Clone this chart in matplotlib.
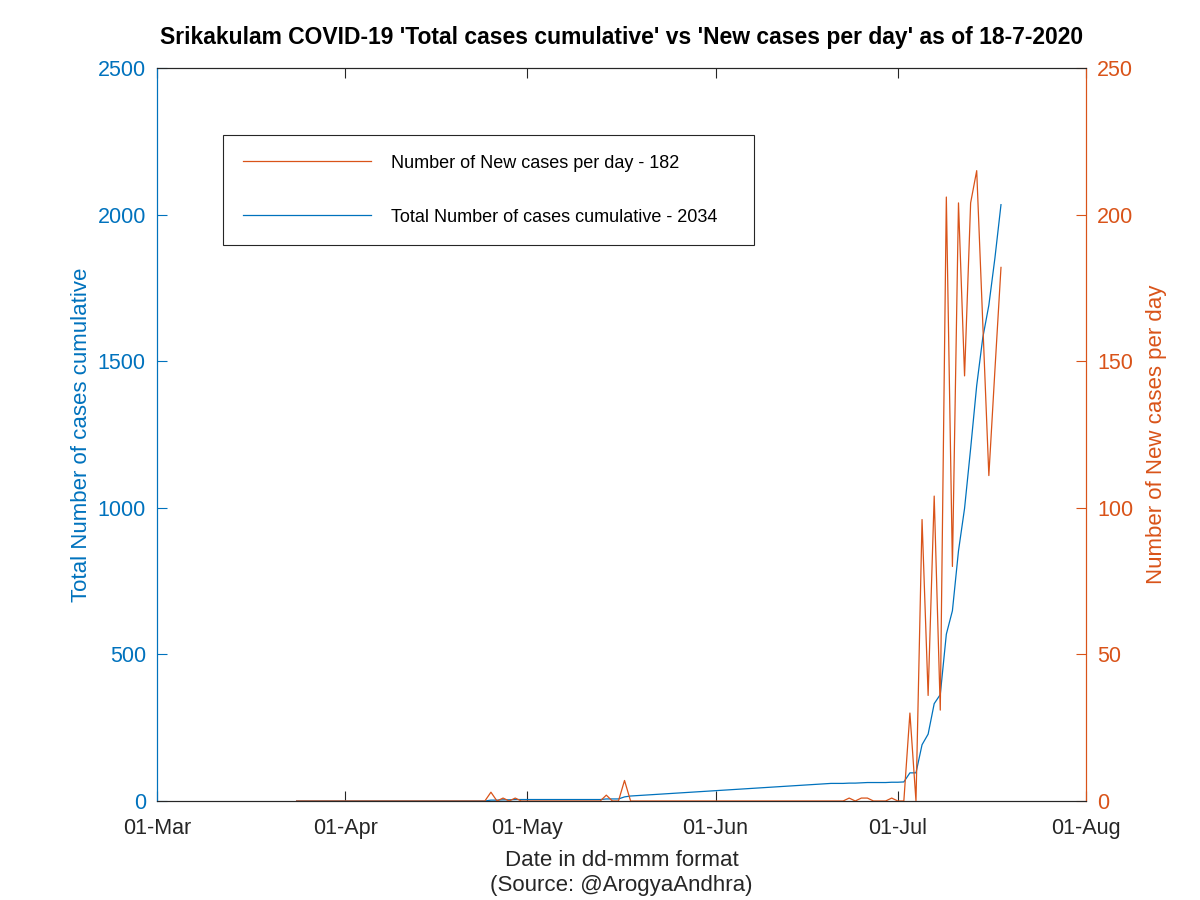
"""Srikakulam COVID-19: cumulative cases vs new cases per day (MATLAB-style twin axes)."""
import matplotlib

matplotlib.use("Agg")
import matplotlib.pyplot as plt
import matplotlib.dates as mdates
import numpy as np

plt.rcParams["font.family"] = ["Liberation Sans", "DejaVu Sans"]

# data
dates = np.array([
    "2020-03-24", "2020-04-24", "2020-04-25", "2020-04-26", "2020-04-27", "2020-04-28",
    "2020-04-29", "2020-04-30", "2020-05-13", "2020-05-14", "2020-05-15", "2020-05-16",
    "2020-05-17", "2020-05-18", "2020-06-20", "2020-06-22", "2020-06-23", "2020-06-24",
    "2020-06-25", "2020-06-26", "2020-06-27", "2020-06-29", "2020-06-30", "2020-07-01",
    "2020-07-02", "2020-07-03", "2020-07-04", "2020-07-05", "2020-07-06", "2020-07-07",
    "2020-07-08", "2020-07-09", "2020-07-10", "2020-07-11", "2020-07-12", "2020-07-13",
    "2020-07-14", "2020-07-15", "2020-07-16", "2020-07-17", "2020-07-18",
], dtype="datetime64[D]")
total_cases = [
    0, 0, 3, 3, 4, 4,
    5, 5, 5, 7, 7, 7,
    14, 17, 60, 60, 61, 61,
    62, 63, 63, 63, 64, 64,
    65, 96, 96, 192, 228, 332,
    363, 569, 649, 853, 998, 1202,
    1417, 1580, 1691, 1852, 2034,
]
new_cases = [
    0, 0, 3, 0, 1, 0,
    1, 0, 0, 2, 0, 0,
    7, 0, 0, 0, 1, 0,
    1, 1, 0, 0, 1, 0,
    0, 30, 0, 96, 36, 104,
    31, 206, 80, 204, 145, 204,
    215, 163, 111, 147, 182,
]
x_ticks = np.array(["2020-03-01", "2020-04-01", "2020-05-01", "2020-06-01",
                    "2020-07-01", "2020-08-01"], dtype="datetime64[D]")

BLUE = "#0072BD"
ORANGE = "#D95319"
DARK = "#262626"

fig = plt.figure(figsize=(12, 9), dpi=100)
ax = fig.add_axes([0.1308, 0.11, 0.7742, 0.8144])
ax2 = ax.twinx()

l_total, = ax.plot(dates, total_cases, color=BLUE, lw=0.9,
                   label=f"Total Number of cases cumulative - {total_cases[-1]}")
l_new, = ax2.plot(dates, new_cases, color=ORANGE, lw=0.9,
                  label=f"Number of New cases per day - {new_cases[-1]}")

ax.set_xlim(x_ticks[0], x_ticks[-1])
ax.set_xticks(x_ticks)
ax.xaxis.set_major_formatter(mdates.DateFormatter("%d-%b"))
ax.set_ylim(0, 2500)
ax.set_yticks(np.arange(0, 2501, 500))
ax2.set_ylim(0, 250)
ax2.set_yticks(np.arange(0, 251, 50))

ax.tick_params(axis="x", direction="in", length=7, top=True, colors=DARK,
               labelsize=15.5, labelcolor=DARK, pad=12)
ax.tick_params(axis="y", direction="in", length=7, colors=BLUE, labelsize=15.5, pad=8)
ax2.tick_params(axis="y", direction="in", length=7, colors=ORANGE, labelsize=15.5, pad=8)

for a in (ax, ax2):
    a.spines["top"].set_color(DARK)
    a.spines["bottom"].set_color(DARK)
    a.spines["left"].set_color(BLUE)
    a.spines["right"].set_color(ORANGE)

ax.set_ylabel("Total Number of cases cumulative", color=BLUE, fontsize=16, labelpad=4)
ax2.set_ylabel("Number of New cases per day", color=ORANGE, fontsize=16, labelpad=9)
ax.set_xlabel("Date in dd-mmm format\n(Source: @ArogyaAndhra)", color=DARK, fontsize=16,
              labelpad=8, linespacing=1.25)
ax.set_title("Srikakulam COVID-19 'Total cases cumulative' vs 'New cases per day' as of 18-7-2020",
             fontsize=16.5, fontweight="bold", pad=17)

leg = ax2.legend(handles=[l_new, l_total], loc="upper left",
                 bbox_to_anchor=(0.071, 0.761, 0.5716, 0.148), mode="expand",
                 fontsize=13, frameon=True, fancybox=False, edgecolor=DARK, framealpha=1,
                 handlelength=7.1, handletextpad=1.1, labelspacing=2.05, borderpad=1.1,
                 borderaxespad=0)
leg.get_frame().set_linewidth(0.8)

fig.savefig("out.png", dpi=100)
